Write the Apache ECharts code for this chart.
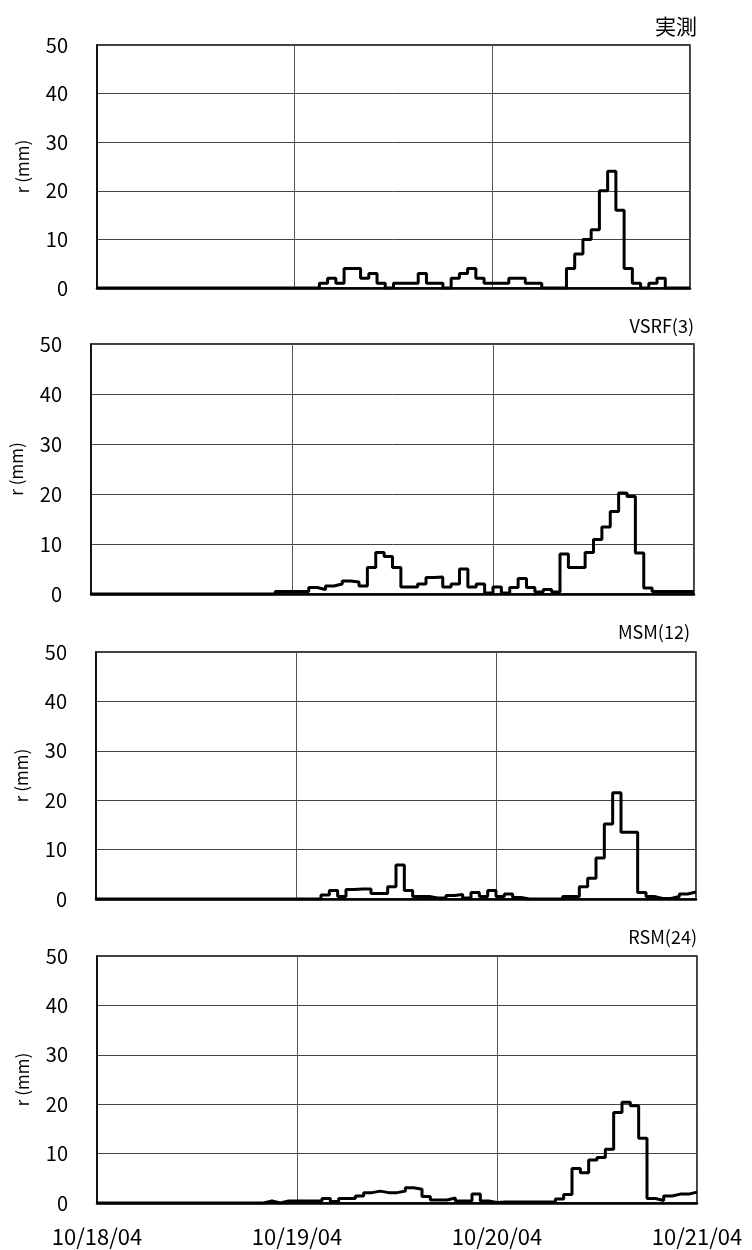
<!DOCTYPE html>
<html>
<head>
<meta charset="utf-8">
<script src="https://cdn.jsdelivr.net/npm/echarts@6/dist/echarts.min.js"></script>
<style>html,body{margin:0;padding:0;background:#fff;}#c{width:752px;height:1250px;}</style>
</head>
<body>
<div id="c"></div>
<script>
// Hourly rainfall (mm), 72 hours from 10/18/04 00:00
const obs = [0,0,0,0,0,0,0,0,0,0,0,0,0,0,0,0,0,0,0,0,0,0,0,0,0,0,0,
  1,2,1,4,4,2,3,1,0,1,1,1,3,1,1,0,2,3,4,2,1,1,1,2,2,1,1,0,0,0,4,7,10,12,20,24,16,4,1,0,1,2,0,0,0];
const vsrf = [0,0,0,0,0,0,0,0,0,0,0,0,0,0,0,0,0,0,0,0,0,0,
  0.5,0.5,0.5,0.5,1.3,0.9,1.6,2.0,2.6,2.4,1.6,5.3,8.3,7.5,5.3,1.4,1.4,2.0,3.3,3.4,1.4,2.0,5.0,1.4,2.0,0.2,
  1.4,0.2,1.3,3.1,1.3,0.4,0.9,0.4,8.0,5.3,5.3,8.3,10.9,13.4,16.5,20.2,19.5,8.2,1.2,0.5,0.5,0.5,0.5,0.5];
const msm = [0,0,0,0,0,0,0,0,0,0,0,0,0,0,0,0,0,0,0,0,0,0,0,0,0,0,0,
  0.8,1.7,0.5,1.9,2.0,2.0,1.1,1.1,2.5,6.9,1.7,0.5,0.5,0.2,0.2,0.7,0.9,0.2,1.3,0.5,1.7,
  0.5,1.0,0.3,0,0,0,0,0,0.5,0.5,2.5,4.2,8.3,15.2,21.5,13.5,13.5,1.3,0.5,0.1,0.1,0.5,1.0,1.4];
const rsm = [0,0,0,0,0,0,0,0,0,0,0,0,0,0,0,0,0,0,0,0,
  0.4,0,0.4,0.4,0.4,0.4,0.4,0.9,0.3,0.9,0.9,1.4,2.1,2.4,2.1,2.1,2.4,3.1,2.8,1.3,0.6,0.6,1.0,0.4,0.4,1.8,0.4,0.1,
  0.2,0.2,0.2,0.2,0.2,0.2,0.2,0.8,1.7,7.0,6.1,8.7,9.2,10.9,18.3,20.4,19.7,13.1,0.9,0.5,1.4,1.8,1.8,2.2];
const panelTitles = ['実測', 'VSRF(3)', 'MSM(12)', 'RSM(24)'];
const dateLabels = ['10/18/04', '10/19/04', '10/20/04', '10/21/04'];
const yTicks = [0, 10, 20, 30, 40, 50];

const seriesData = [obs, vsrf, msm, rsm];
const FONT = '"Noto Sans CJK JP", sans-serif';
const grids = [
  {left: 97, right: 62, top: 45, height: 243},
  {left: 91, right: 58, top: 344, height: 250},
  {left: 96, right: 56, top: 652, height: 247},
  {left: 97, right: 55, top: 956, height: 247}
];
const titlePos = [
  {right: 55, top: 16, size: 21},
  {right: 58, top: 317, size: 18},
  {right: 62, top: 623, size: 18},
  {right: 55, top: 928, size: 18}
];

function toSteps(arr) {
  const d = arr.map((v, i) => [i, v]);
  d.push([arr.length, arr[arr.length - 1]]);
  return d;
}

const option = {
  animation: false,
  backgroundColor: '#fff',
  textStyle: {fontFamily: FONT},
  title: panelTitles.map((t, i) => ({
    text: t, right: titlePos[i].right, top: titlePos[i].top, padding: 0,
    textStyle: {fontSize: titlePos[i].size, fontWeight: 'normal', color: '#000', fontFamily: FONT}
  })),
  grid: grids.map(g => Object.assign({show: true, borderColor: '#000', borderWidth: 1.5, backgroundColor: '#fff'}, g)),
  xAxis: grids.map((g, i) => ({
    type: 'value', gridIndex: i, min: 0, max: 72, interval: 24,
    axisLine: {show: true, onZero: false, lineStyle: {color: '#000', width: 2.5}},
    axisTick: {show: false},
    splitLine: {show: true, lineStyle: {color: '#555', width: 1}},
    axisLabel: {
      show: i === 3, fontSize: 22, color: '#000', margin: 23, fontFamily: FONT,
      formatter: v => dateLabels[Math.round(v / 24)] || ''
    }
  })),
  yAxis: grids.map((g, i) => ({
    type: 'value', gridIndex: i, min: yTicks[0], max: yTicks[yTicks.length - 1], interval: 10,
    name: 'r (mm)', nameLocation: 'middle', nameGap: 66, nameRotate: 90,
    nameTextStyle: {fontSize: 17, color: '#000', fontFamily: FONT},
    axisLine: {show: true, lineStyle: {color: '#000', width: 1.5}},
    axisTick: {show: false},
    splitLine: {show: true, lineStyle: {color: '#444', width: 1}},
    axisLabel: {fontSize: 20, color: '#000', margin: 29, fontFamily: FONT}
  })),
  series: seriesData.map((arr, i) => ({
    type: 'line', xAxisIndex: i, yAxisIndex: i, step: 'end',
    data: toSteps(arr), showSymbol: false, symbol: 'none',
    lineStyle: {color: '#000', width: 3}, z: 5
  }))
};

const chart = echarts.init(document.getElementById('c'), null, {renderer: 'canvas'});
chart.setOption(option);
</script>
</body>
</html>
